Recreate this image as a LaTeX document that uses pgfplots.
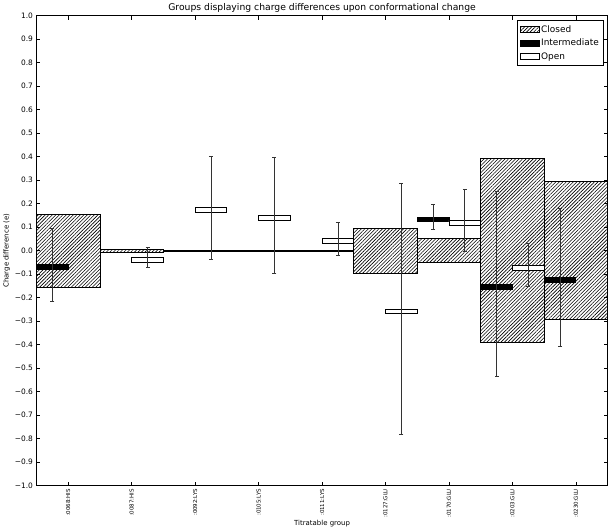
\documentclass[border=0pt]{standalone}
\usepackage{fontspec}
\setmainfont{DejaVu Sans}
\usepackage{pgfplots}
\usepackage{pgfplotstable}
\pgfplotsset{compat=1.18}
\usetikzlibrary{patterns.meta}

% bars are floating: an invisible base (lo) and a visible stacked part (h)
\pgfplotstableread{
x   lo     h
0.5 -0.155 0.310
1.5 -0.006 0.012
2.5 -0.001 0.002
3.5 -0.001 0.002
4.5 -0.001 0.002
5.5 -0.096 0.192
6.5 -0.051 0.102
7.5 -0.392 0.784
8.5 -0.294 0.588
}\closedtab

\pgfplotstableread{
x    lo     h
0.25 -0.080 0.02
6.25 0.123  0.02
7.25 -0.163 0.02
8.25 -0.133 0.02
}\intertab

\pgfplotstableread{
x    lo     h
1.75 -0.049 0.02
2.75 0.163  0.02
3.75 0.130  0.02
4.75 0.031  0.02
5.75 -0.269 0.02
6.75 0.109  0.02
7.75 -0.083 0.02
}\opentab

\pgfplotstableread{
x    y      e
0.25 -0.060 0.155
6.25 0.143  0.053
7.25 -0.142 0.393
8.25 -0.114 0.293
1.75 -0.029 0.041
2.75 0.183  0.220
3.75 0.150  0.245
4.75 0.051  0.069
5.75 -0.248 0.536
6.75 0.129  0.131
7.75 -0.061 0.093
}\errtab

\tikzset{hatch/.style={pattern={Lines[angle=45,distance=2.5pt,line width=0.6pt]},pattern color=black}}

\pgfplotsset{
  base/.style={scale only axis,width=575pt,height=473pt,
    xmin=0,xmax=9,ymin=-1,ymax=1},
  layer/.style={base,hide axis,ybar stacked,stack negative=on previous,stacked ignores zero=false},
}

\begin{document}
\begin{tikzpicture}
  \begin{axis}[layer,bar width=1]
    \addplot[draw=none,fill=none] table[x=x,y=lo] {\closedtab};
    \addplot[draw=black,line width=0.8pt,hatch] table[x=x,y=h] {\closedtab};
  \end{axis}
  \begin{axis}[layer,bar width=0.5]
    \addplot[draw=none,fill=none] table[x=x,y=lo] {\intertab};
    \addplot[draw=black,line width=0.8pt,fill=black] table[x=x,y=h] {\intertab};
  \end{axis}
  \begin{axis}[layer,bar width=0.5]
    \addplot[draw=none,fill=none] table[x=x,y=lo] {\opentab};
    \addplot[draw=black,line width=0.8pt,fill=white] table[x=x,y=h] {\opentab};
  \end{axis}
  \begin{axis}[
      base,
      axis line style={line width=0.8pt},
      tick align=inside,
      tick pos=both,
      major tick length=4pt,
      tick style={black,line width=0.6pt},
      xtick={0.5,1.5,2.5,3.5,4.5,5.5,6.5,7.5,8.5},
      xticklabels={:0068:HIS,:0087:HIS,:0092:LYS,:0105:LYS,:0111:LYS,:0127:GLU,:0170:GLU,:0203:GLU,:0230:GLU},
      x tick label style={rotate=90,anchor=east,font=\fontsize{5.5}{6}\selectfont},
      ytick={-1,-0.9,-0.8,-0.7,-0.6,-0.5,-0.4,-0.3,-0.2,-0.1,0,0.1,0.2,0.3,0.4,0.5,0.6,0.7,0.8,0.9,1},
      yticklabels={−1.0,−0.9,−0.8,−0.7,−0.6,−0.5,−0.4,−0.3,−0.2,−0.1,0.0,0.1,0.2,0.3,0.4,0.5,0.6,0.7,0.8,0.9,1.0},
      y tick label style={font=\fontsize{7.5}{8}\selectfont},
      xlabel={Titratable group},
      ylabel={Charge difference (e)},
      label style={font=\fontsize{7}{8}\selectfont},
      xlabel style={yshift=4pt},
      ylabel style={yshift=-2pt},
      title={Groups displaying charge differences upon conformational change},
      title style={font=\fontsize{9.3}{11}\selectfont,yshift=-6pt},
      legend style={at={(0.993,0.99)},anchor=north east,draw=black,line width=0.6pt,
        font=\fontsize{9}{11}\selectfont,row sep=1.5pt,inner sep=2.5pt},
      legend cell align=left,
      legend image code/.code={\draw[#1] (0pt,-3pt) rectangle (19pt,3pt);},
    ]
    \addplot[forget plot,draw=none,mark=none,
      error bars/.cd,y dir=both,y explicit,
      error mark=-,
      error bar style={draw=black!80,line width=0.8pt},
      error mark options={draw=black!80,rotate=90,mark size=2pt,line width=0.8pt}]
      table[x=x,y=y,y error=e] {\errtab};
    \addlegendimage{draw=black,line width=0.6pt,hatch}
    \addlegendentry{Closed}
    \addlegendimage{draw=black,line width=0.6pt,fill=black}
    \addlegendentry{Intermediate}
    \addlegendimage{draw=black,line width=0.6pt,fill=white}
    \addlegendentry{Open}
  \end{axis}
\end{tikzpicture}
\end{document}
